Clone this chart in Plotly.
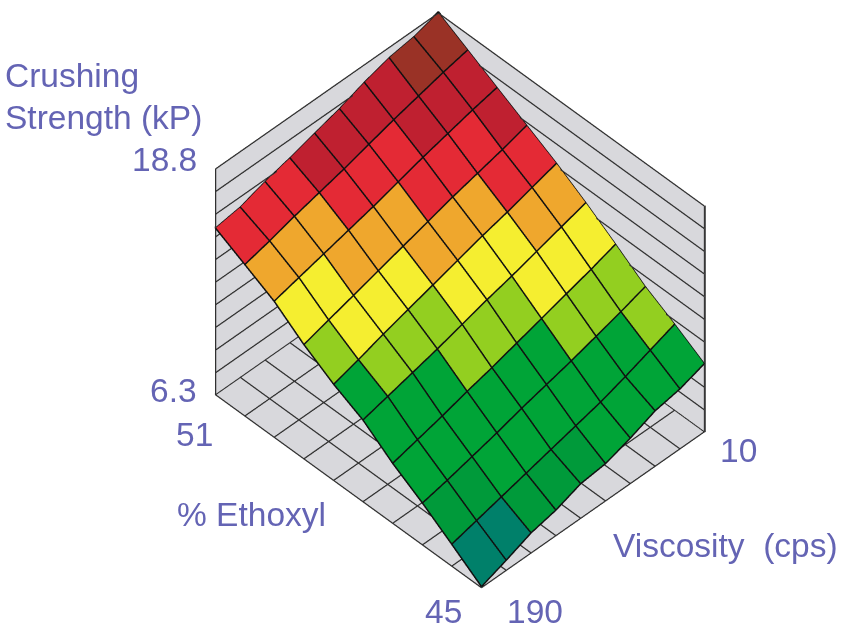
import plotly.graph_objects as go

# Data
ethoxyl = [51.0, 50.33, 49.67, 49.0, 48.33, 47.67, 47.0, 46.33, 45.67, 45.0]
viscosity = [190, 170, 150, 130, 110, 90, 70, 50, 30, 10]
z_min, z_max = 6.3, 18.8
strength = [
    [15.5, 15.7, 16.15, 16.5, 16.9, 17.3, 17.8, 18.2, 18.4, 18.8],
    [14.65, 15.0, 15.4, 15.75, 16.1, 16.5, 16.9, 17.25, 17.6, 17.9],
    [13.8, 14.15, 14.5, 14.85, 15.2, 15.6, 16.0, 16.35, 16.7, 17.0],
    [12.6, 13.0, 13.4, 13.8, 14.2, 14.6, 15.0, 15.35, 15.7, 16.1],
    [11.6, 12.0, 12.45, 12.85, 13.25, 13.65, 14.05, 14.4, 14.8, 15.2],
    [10.8, 11.15, 11.5, 11.85, 12.25, 12.65, 13.0, 13.4, 13.8, 14.2],
    [9.6, 9.95, 10.3, 10.7, 11.05, 11.45, 11.85, 12.25, 12.65, 13.1],
    [8.6, 8.9, 9.25, 9.6, 10.0, 10.35, 10.7, 11.1, 11.5, 11.95],
    [7.5, 7.85, 8.2, 8.55, 8.9, 9.25, 9.6, 10.05, 10.55, 11.05],
    [6.35, 6.85, 7.4, 7.7, 8.2, 8.35, 8.8, 9.35, 9.6, 10.06],
]
# colour class of each grid cell
bands = [
    [6, 6, 6, 7, 7, 7, 7, 8, 8],
    [5, 5, 5, 6, 6, 6, 7, 7, 7],
    [4, 4, 5, 5, 5, 6, 6, 6, 7],
    [3, 4, 4, 4, 5, 5, 5, 6, 6],
    [2, 3, 3, 3, 4, 4, 4, 5, 5],
    [2, 2, 2, 3, 3, 3, 4, 4, 4],
    [2, 2, 2, 2, 2, 2, 3, 3, 3],
    [1, 1, 2, 2, 2, 2, 2, 2, 3],
    [0, 0, 1, 1, 1, 2, 2, 2, 2],
]
palette = ["#00806A", "#009A3A", "#00A437", "#93CF20", "#F5EE30",
           "#EFA72D", "#E42A35", "#BF2030", "#9A3226"]
wall_ticks = [6.3, 7.55, 8.8, 10.05, 11.3, 12.55, 13.8, 15.05, 16.3, 17.55, 18.8]

WALL = "#D8D8DC"
LINE = "#303030"
TEXT = "#6464B4"
W, H = 848, 638

x_lo, x_hi = min(ethoxyl), max(ethoxyl)
y_lo, y_hi = min(viscosity), max(viscosity)
n = len(ethoxyl)
m = len(viscosity)


def flat_mesh():
    return dict(flatshading=True, hoverinfo="skip", showscale=False,
                lighting=dict(ambient=1, diffuse=0, specular=0, roughness=1, fresnel=0))


def lines_trace(segments, color, width):
    xs, ys, zs = [], [], []
    for seg in segments:
        for p in seg:
            xs.append(p[0]); ys.append(p[1]); zs.append(p[2])
        xs.append(None); ys.append(None); zs.append(None)
    return go.Scatter3d(x=xs, y=ys, z=zs, mode="lines", hoverinfo="skip",
                        line=dict(color=color, width=width), showlegend=False)


fig = go.Figure()

# Surface cells
vx, vy, vz, ti, tj, tk, fc = [], [], [], [], [], [], []
for i in range(n):
    for j in range(m):
        vx.append(ethoxyl[i]); vy.append(viscosity[j]); vz.append(strength[i][j])
for i in range(n - 1):
    for j in range(m - 1):
        a = i * m + j
        b = a + 1
        c = (i + 1) * m + j + 1
        d = (i + 1) * m + j
        ti += [a, a]; tj += [b, c]; tk += [c, d]
        fc += [palette[bands[i][j]]] * 2
fig.add_trace(go.Mesh3d(x=vx, y=vy, z=vz, i=ti, j=tj, k=tk, facecolor=fc, **flat_mesh()))

# Walls and floor: A left, B back, C back top, D left top, E right, F right top, G near
fig.add_trace(go.Mesh3d(
    x=[x_hi, x_hi, x_hi, x_hi, x_lo, x_lo, x_lo],
    y=[y_hi, y_lo, y_lo, y_hi, y_lo, y_lo, y_hi],
    z=[z_min, z_min, z_max, z_max, z_min, z_max, z_min],
    i=[0, 0, 1, 1, 0, 0], j=[1, 2, 4, 5, 1, 4], k=[2, 3, 5, 2, 4, 6],
    color=WALL, **flat_mesh()))

# Surface grid
lift = 0.04
segs = []
for i in range(n):
    segs.append([(ethoxyl[i], viscosity[j], strength[i][j] + lift) for j in range(m)])
for j in range(m):
    segs.append([(ethoxyl[i], viscosity[j], strength[i][j] + lift) for i in range(n)])
fig.add_trace(lines_trace(segs, "#101010", 3))

# Wall and floor grid, nudged just off the planes
ex, ey, ez = 0.012, 0.4, 0.03
segs = []
for t in wall_ticks:
    segs.append([(x_lo, y_lo + ey, t), (x_hi - ex, y_lo + ey, t), (x_hi - ex, y_hi, t)])
for e in ethoxyl:
    segs.append([(e, y_lo, z_min + ez), (e, y_hi, z_min + ez)])
for v in viscosity:
    segs.append([(x_lo, v, z_min + ez), (x_hi, v, z_min + ez)])
segs.append([(x_hi - ex, y_hi, z_min), (x_hi - ex, y_hi, z_max)])
fig.add_trace(lines_trace(segs, LINE, 2.5))
fig.add_trace(lines_trace([[(x_lo, y_lo, z_min), (x_lo, y_lo, z_max)]], "#000000", 3.5))

labels = [
    ("Crushing", 3, 75, "left"), ("Strength (kP)", 3, 117, "left"),
    ("18.8", 199, 160, "right"), ("6.3", 199, 390, "right"),
    ("51", 215, 435, "right"), ("% Ethoxyl", 175, 514, "left"),
    ("45", 464, 611, "right"), ("190", 505, 611, "left"),
    ("Viscosity  (cps)", 611, 545, "left"), ("10", 718, 450, "left"),
]
for txt, px, py, anchor in labels:
    fig.add_annotation(text=txt, x=px / W, y=1 - py / H, xref="paper", yref="paper",
                       xanchor=anchor, yanchor="middle", showarrow=False,
                       font=dict(family="Liberation Sans", size=33.5, color=TEXT))

k = 1.6
cx, cy, cz = 0.0491, 0.1096, -0.0412
axis = dict(visible=False)
fig.update_layout(
    width=W, height=H, margin=dict(l=0, r=0, t=0, b=0), paper_bgcolor="white",
    showlegend=False,
    scene=dict(
        domain=dict(x=[0, 1], y=[0, 1]),
        xaxis=dict(range=[x_lo - 0.03, x_hi + 0.03], **axis),
        yaxis=dict(range=[y_lo - 0.9, y_hi + 0.9], **axis),
        zaxis=dict(range=[z_min - 0.06, z_max + 0.06], **axis),
        aspectmode="manual", aspectratio=dict(x=1.2039, y=0.9908, z=1.0213),
        bgcolor="white",
        camera=dict(projection=dict(type="orthographic"),
                    up=dict(x=0, y=0, z=1), center=dict(x=cx, y=cy, z=cz),
                    eye=dict(x=cx - 0.5007 * k, y=cy + 0.4916 * k, z=cz + 0.7124 * k)),
    ),
)
fig.write_html("out.html", config={"displayModeBar": False},
               post_script="document.body.style.margin='0';")
